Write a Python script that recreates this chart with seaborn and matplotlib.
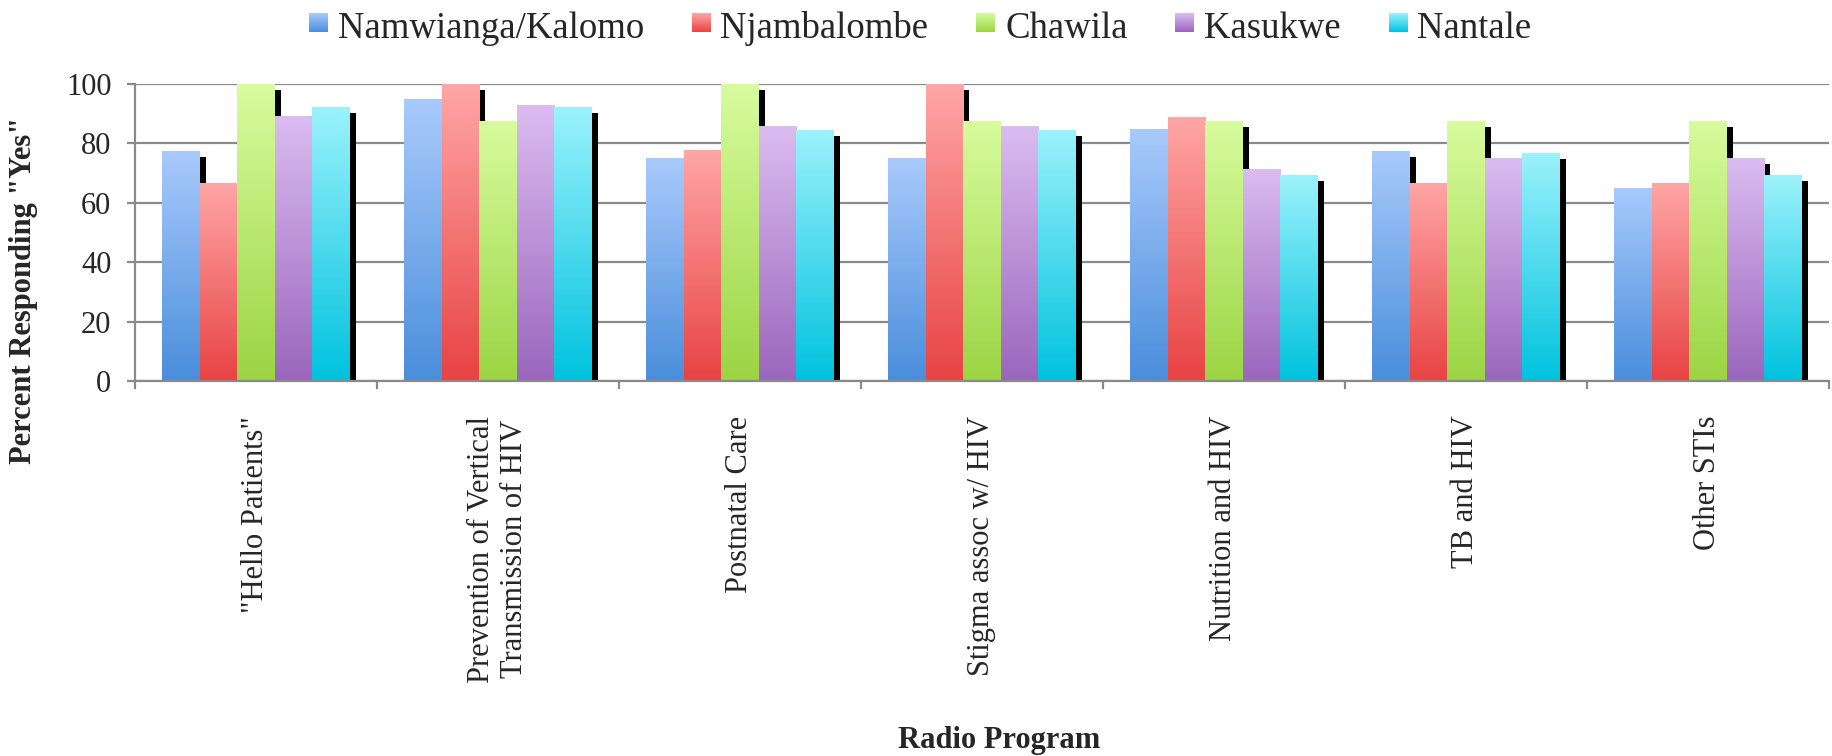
import numpy as np
import pandas as pd
import matplotlib
matplotlib.use("Agg")
import matplotlib.pyplot as plt
import seaborn as sns
from matplotlib.colors import LinearSegmentedColormap
from matplotlib.patches import Rectangle
from matplotlib.transforms import ScaledTranslation, Bbox, TransformedBbox
from matplotlib.image import BboxImage
from matplotlib.legend_handler import HandlerBase

programs = ['"Hello Patients"', "Prevention of Vertical\nTransmission of HIV",
            "Postnatal Care", "Stigma assoc w/ HIV", "Nutrition and HIV",
            "TB and HIV", "Other STIs"]
sites = ["Namwianga/Kalomo", "Njambalombe", "Chawila", "Kasukwe", "Nantale"]

namwianga = [77.5, 95.0, 75.0, 75.0, 85.0, 77.5, 65.0]
njambalombe = [66.7, 100.0, 77.8, 100.0, 88.9, 66.7, 66.7]
chawila = [100.0, 87.5, 100.0, 87.5, 87.5, 87.5, 87.5]
kasukwe = [89.3, 92.9, 85.7, 85.7, 71.4, 75.0, 75.0]
nantale = [92.3, 92.3, 84.6, 84.6, 69.2, 76.9, 69.2]

yticks = [0, 20, 40, 60, 80, 100]

# light (top) and dark (bottom) shade of each series
top_colors = ["#a9cafc", "#ffa6a6", "#d7fc9e", "#dbbcf0", "#9cf2fc"]
bottom_colors = ["#4a8edb", "#e84343", "#9cd443", "#9a66bd", "#00c2de"]
mid_colors = ["#79adef", "#f57474", "#bbe872", "#ba92d8", "#4edbef"]

values = [namwianga, njambalombe, chawila, kasukwe, nantale]
df = pd.DataFrame({
    "program": np.repeat([programs], len(sites), axis=0).ravel(),
    "site": np.repeat(sites, len(programs)),
    "value": np.concatenate(values),
})

sns.set_style("white")
plt.rcParams["font.family"] = ["Liberation Serif", "DejaVu Serif"]

fig = plt.figure(figsize=(18.33, 7.56), dpi=100)
ax = fig.add_axes([135 / 1833, 1 - 381 / 756, 1694 / 1833, 297 / 756])

sns.barplot(data=df, x="program", y="value", hue="site", order=programs,
            hue_order=sites, palette=mid_colors, width=0.775, saturation=1,
            linewidth=0, legend=False, ax=ax, zorder=2)

xlim = (-0.5, len(programs) - 0.5)
grad = np.linspace(0, 1, 256).reshape(-1, 1)
shadow_shift = ScaledTranslation(6 / 100, -6 / 100, fig.dpi_scale_trans)

for container, c_top, c_bot in zip(ax.containers, top_colors, bottom_colors):
    cmap = LinearSegmentedColormap.from_list("g", [c_bot, c_top])
    for rect in container:
        x0, _ = rect.get_xy()
        w, h = rect.get_width(), rect.get_height()
        # drop shadow behind the bar
        shadow = Rectangle((x0, 0), w, h, facecolor="black", linewidth=0,
                           transform=ax.transData + shadow_shift, zorder=1.5)
        ax.add_patch(shadow)
        # vertical gradient fill clipped to the bar
        im = ax.imshow(grad, extent=[x0, x0 + w, 0, h], aspect="auto",
                       cmap=cmap, origin="lower", interpolation="bilinear",
                       zorder=2.5)
        im.set_clip_path(rect)
        rect.set_facecolor("none")

ax.set_xlim(*xlim)
ax.set_ylim(0, 100)
ax.set_aspect("auto")

grid_color = "#8a8a8a"
ax.set_yticks(yticks)
ax.yaxis.grid(True, color=grid_color, linewidth=1.6, zorder=0)
ax.set_axisbelow(True)
for side in ["top", "right"]:
    ax.spines[side].set_visible(False)
for side in ["left", "bottom"]:
    ax.spines[side].set_color(grid_color)
    ax.spines[side].set_linewidth(1.6)

ax.tick_params(axis="y", which="major", length=6, width=1.6, color=grid_color,
               direction="out", pad=11, labelsize=22, left=True)
ax.set_xticks(np.arange(len(programs)))
ax.set_xticks(np.arange(len(programs) + 1) - 0.5, minor=True)
ax.tick_params(axis="x", which="major", length=0, pad=25, labelsize=22)
ax.tick_params(axis="x", which="minor", length=6, width=1.6, color=grid_color,
               direction="out", bottom=True)
ax.set_xticklabels(programs, rotation=90, va="top", ha="center",
                   multialignment="center")

ax.set_xlabel("Radio Program", fontsize=22, fontweight="bold", va="center")
ax.xaxis.set_label_coords(0.51, -1.21)
ax.set_ylabel('Percent Responding "Yes"', fontsize=22, fontweight="bold",
              va="center")
ax.yaxis.set_label_coords(-0.066, 0.306)


class GradientSquare(HandlerBase):
    def __init__(self, c_top, c_bot):
        super().__init__()
        self.cmap = LinearSegmentedColormap.from_list("g", [c_bot, c_top])

    def create_artists(self, legend, orig_handle, xdescent, ydescent, width,
                       height, fontsize, trans):
        side = min(width, height)
        x0 = -xdescent + (width - side) / 2
        y0 = -ydescent + (height - side) / 2 + 1.5
        bbox = TransformedBbox(Bbox.from_bounds(x0, y0, side, side), trans)
        img = BboxImage(bbox, cmap=self.cmap, interpolation="bilinear",
                        origin="lower")
        img.set_data(grad)
        return [img]


handles = [Rectangle((0, 0), 1, 1, facecolor=c) for c in mid_colors]
handler_map = {h: GradientSquare(t, b)
               for h, t, b in zip(handles, top_colors, bottom_colors)}
fig.legend(handles, sites, handler_map=handler_map, loc="center",
           bbox_to_anchor=(0.502, 1 - 28 / 756), ncol=5, frameon=False,
           fontsize=26.5, handlelength=0.5, handleheight=0.5,
           handletextpad=0.28, columnspacing=1.3)

fig.savefig("out.png", dpi=100)
